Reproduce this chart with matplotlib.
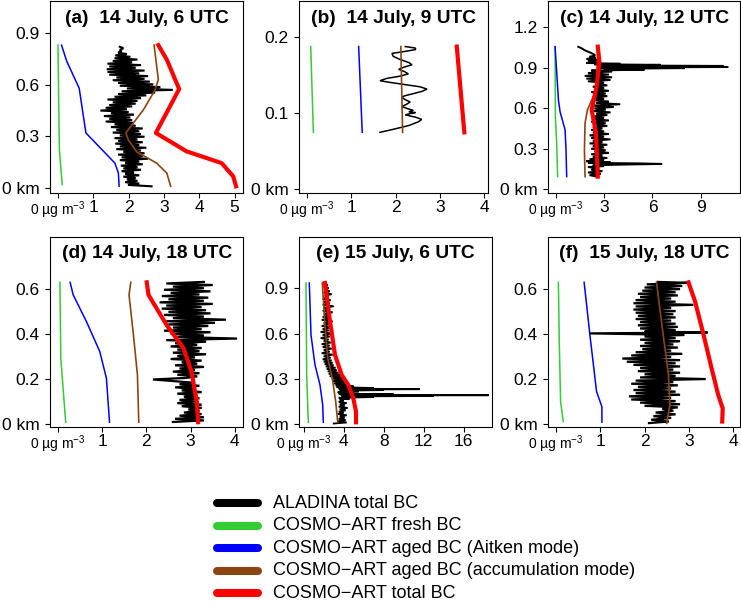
import numpy as np
import matplotlib
matplotlib.use('Agg')
import matplotlib.pyplot as plt
from matplotlib.lines import Line2D

plt.rcParams['font.family'] = ['Liberation Sans', 'DejaVu Sans']
plt.rcParams['mathtext.fontset'] = 'custom'
plt.rcParams['mathtext.rm'] = 'Liberation Sans'
plt.rcParams['mathtext.it'] = 'Liberation Sans:italic'
plt.rcParams['mathtext.default'] = 'regular'

C_BLACK, C_FRESH, C_AIT, C_ACC, C_TOT = 'black', '#33CC33', '#0000FF', '#8B4513', '#FF0000'
LEGEND_LABELS = ['ALADINA total BC', 'COSMO\u2212ART fresh BC',
                 'COSMO\u2212ART aged BC (Aitken mode)',
                 'COSMO\u2212ART aged BC (accumulation mode)',
                 'COSMO\u2212ART total BC']
TITLES = ['(a)  14 July, 6 UTC', '(b)  14 July, 9 UTC', '(c) 14 July, 12 UTC',
          '(d) 14 July, 18 UTC', '(e) 15 July, 6 UTC', '(f)  15 July, 18 UTC']

# ---------------- panel (a) ----------------
A_FRESH_X = [0.0, 0.02, 0.04, 0.12]
A_FRESH_Z = [0.83, 0.50, 0.22, 0.02]
A_AIT_X = [0.10, 0.25, 0.60, 0.79, 1.61, 1.71, 1.73]
A_AIT_Z = [0.83, 0.735, 0.58, 0.32, 0.145, 0.087, 0.01]
A_ACC_X = [2.72, 2.84, 2.75, 2.42, 1.92, 1.99, 2.23, 2.79, 3.08, 3.19]
A_ACC_Z = [0.83, 0.63, 0.57, 0.455, 0.32, 0.28, 0.21, 0.145, 0.087, 0.01]
A_TOT_X = [2.84, 3.08, 3.43, 3.12, 2.77, 3.64, 4.63, 4.96, 5.04]
A_TOT_Z = [0.83, 0.745, 0.575, 0.455, 0.32, 0.213, 0.145, 0.068, 0.01]
A_OBS_Z = [0.010, 0.018, 0.026, 0.034, 0.042, 0.050, 0.058, 0.066, 0.074, 0.082,
           0.090, 0.098, 0.106, 0.114, 0.122, 0.130, 0.138, 0.146, 0.154, 0.162,
           0.170, 0.178, 0.186, 0.194, 0.202, 0.210, 0.218, 0.226, 0.234, 0.242,
           0.250, 0.258, 0.266, 0.274, 0.282, 0.290, 0.298, 0.306, 0.314, 0.322,
           0.330, 0.338, 0.346, 0.354, 0.362, 0.370, 0.378, 0.386, 0.394, 0.402,
           0.410, 0.418, 0.426, 0.434, 0.442, 0.450, 0.458, 0.466, 0.474, 0.482,
           0.490, 0.498, 0.506, 0.514, 0.522, 0.530, 0.538, 0.546, 0.554, 0.562,
           0.570, 0.578, 0.586, 0.594, 0.602, 0.610, 0.618, 0.626, 0.634, 0.642,
           0.650, 0.658, 0.666, 0.674, 0.682, 0.690, 0.698, 0.706, 0.714, 0.722,
           0.730, 0.738, 0.746, 0.754, 0.762, 0.770, 0.778, 0.786, 0.794, 0.802,
           0.812, 0.820]
A_OBS_X = [2.65, 1.98, 2.30, 1.90, 2.25, 1.95, 2.20, 1.85, 2.30, 1.90,
           2.15, 1.80, 2.35, 1.85, 2.25, 1.78, 2.40, 1.90, 2.30, 1.75,
           2.55, 1.80, 2.40, 1.70, 2.45, 1.85, 2.35, 1.65, 2.50, 1.75,
           2.30, 1.62, 2.40, 1.70, 2.25, 1.60, 2.45, 1.75, 2.35, 1.55,
           2.30, 1.65, 2.40, 1.50, 2.20, 1.60, 2.15, 1.35, 2.10, 1.45,
           2.05, 1.30, 2.15, 1.50, 2.00, 1.20, 1.95, 1.35, 2.10, 1.45,
           2.20, 1.55, 2.25, 1.40, 2.35, 1.60, 2.50, 1.70, 2.75, 1.80,
           3.25, 1.95, 2.90, 1.75, 2.70, 1.70, 2.60, 1.55, 2.45, 1.65,
           2.55, 1.45, 2.30, 1.40, 2.45, 1.38, 2.20, 1.45, 2.35, 1.40,
           2.10, 1.55, 2.25, 1.60, 2.05, 1.62, 1.95, 1.70, 1.80, 1.75,
           1.85, 1.75]

# ---------------- panel (b) ----------------
B_FRESH_X = [0.09, 0.15]
B_FRESH_Z = [0.188, 0.075]
B_AIT_X = [1.17, 1.25]
B_AIT_Z = [0.188, 0.075]
B_ACC_X = [2.12, 2.16]
B_ACC_Z = [0.188, 0.075]
B_TOT_X = [3.38, 3.55]
B_TOT_Z = [0.188, 0.075]
B_OBS_Z = [0.075, 0.079, 0.084, 0.089, 0.092, 0.095, 0.097, 0.098, 0.100, 0.101,
           0.102, 0.104, 0.106, 0.109, 0.112, 0.115, 0.118, 0.121, 0.123, 0.126,
           0.129, 0.132, 0.135, 0.138, 0.141, 0.143, 0.146, 0.149, 0.152, 0.155,
           0.158, 0.161, 0.164, 0.167, 0.171, 0.175, 0.179, 0.181, 0.184, 0.186,
           0.188]
B_OBS_X = [1.65, 1.95, 2.30, 2.52, 2.59, 2.45, 2.30, 2.22, 2.35, 2.45,
           2.30, 2.40, 2.28, 2.14, 2.25, 2.33, 2.22, 2.14, 2.20, 2.40,
           2.60, 2.71, 2.55, 2.20, 1.85, 1.65, 1.80, 2.10, 2.29, 2.20,
           2.07, 2.20, 2.37, 2.30, 2.10, 1.95, 1.92, 2.15, 2.45, 2.45,
           2.22]

# ---------------- panel (c) ----------------
C_FRESH_X = [-0.04, -0.02, 0.06, 0.12]
C_FRESH_Z = [1.057, 0.538, 0.34, 0.094]
C_AIT_X = [-0.04, 0.17, 0.27, 0.58, 0.64, 0.68]
C_AIT_Z = [1.057, 0.66, 0.575, 0.44, 0.29, 0.094]
C_ACC_X = [2.61, 2.54, 2.23, 1.97, 1.82, 1.78, 1.82]
C_ACC_Z = [1.057, 0.75, 0.66, 0.59, 0.49, 0.29, 0.094]
C_TOT_X = [2.61, 2.71, 2.54, 2.23, 2.50, 2.61]
C_TOT_Z = [1.057, 0.946, 0.76, 0.59, 0.415, 0.094]
C_OBS_Z = [0.095, 0.105, 0.115, 0.125, 0.135, 0.145, 0.155, 0.165, 0.172, 0.178,
           0.184, 0.188, 0.192, 0.196, 0.200, 0.208, 0.216, 0.224, 0.232, 0.240,
           0.250, 0.260, 0.270, 0.280, 0.290, 0.300, 0.310, 0.320, 0.330, 0.340,
           0.350, 0.360, 0.370, 0.380, 0.390, 0.400, 0.410, 0.420, 0.430, 0.440,
           0.450, 0.460, 0.470, 0.480, 0.490, 0.500, 0.510, 0.520, 0.530, 0.540,
           0.550, 0.560, 0.570, 0.580, 0.590, 0.600, 0.610, 0.620, 0.630, 0.640,
           0.650, 0.660, 0.670, 0.680, 0.690, 0.700, 0.710, 0.720, 0.730, 0.740,
           0.750, 0.760, 0.770, 0.780, 0.790, 0.800, 0.810, 0.820, 0.830, 0.840,
           0.850, 0.860, 0.868, 0.874, 0.880, 0.886, 0.892, 0.898, 0.902, 0.906,
           0.910, 0.914, 0.918, 0.922, 0.926, 0.930, 0.936, 0.942, 0.950, 0.958,
           0.966, 0.974, 0.982, 0.990, 0.995, 1.010, 1.020, 1.030, 1.045, 1.056]
C_OBS_X = [2.5, 2.1, 2.8, 2.0, 2.9, 2.2, 2.7, 2.0, 3.0, 2.3,
           4.5, 6.6, 5.2, 2.0, 3.4, 1.9, 3.0, 2.1, 3.2, 2.3,
           2.9, 2.2, 3.3, 2.4, 3.1, 2.2, 3.0, 2.3, 3.2, 2.1,
           2.9, 2.3, 3.4, 2.2, 3.0, 2.1, 3.3, 2.3, 3.0, 2.2,
           2.9, 2.3, 3.2, 2.4, 3.1, 2.2, 3.3, 2.4, 3.0, 2.3,
           3.2, 2.5, 3.4, 2.3, 3.1, 2.4, 3.6, 2.2, 4.0, 2.5,
           3.3, 2.4, 3.0, 2.3, 3.2, 2.5, 3.1, 2.2, 3.3, 2.4,
           3.0, 2.3, 3.2, 2.5, 3.0, 2.0, 3.4, 1.9, 3.5, 1.8,
           3.3, 2.0, 2.8, 3.5, 2.2, 5.5, 3.0, 8.0, 2.6, 10.7,
           3.0, 10.4, 2.7, 6.5, 2.4, 4.0, 1.9, 2.8, 2.0, 2.6,
           1.9, 2.5, 2.1, 2.4, 2.44, 2.2, 2.0, 1.8, 1.6, 1.4]

# ---------------- panel (d) ----------------
D_FRESH_X = [0.05, 0.07, 0.18]
D_FRESH_Z = [0.631, 0.293, 0.009]
D_AIT_X = [0.28, 0.35, 0.65, 0.95, 1.10, 1.17]
D_AIT_Z = [0.631, 0.575, 0.456, 0.323, 0.204, 0.009]
D_ACC_X = [1.65, 1.61, 1.71, 1.80, 1.83]
D_ACC_Z = [0.631, 0.575, 0.397, 0.219, 0.009]
D_TOT_X = [2.01, 2.05, 2.46, 2.84, 3.02, 3.14, 3.17]
D_TOT_Z = [0.631, 0.575, 0.441, 0.338, 0.234, 0.10, 0.009]
D_OBS_Z = [0.010, 0.017, 0.024, 0.031, 0.038, 0.045, 0.052, 0.059, 0.066, 0.073,
           0.080, 0.087, 0.094, 0.101, 0.108, 0.115, 0.122, 0.129, 0.136, 0.143,
           0.150, 0.157, 0.164, 0.171, 0.178, 0.185, 0.192, 0.199, 0.206, 0.213,
           0.220, 0.227, 0.234, 0.241, 0.248, 0.255, 0.262, 0.269, 0.276, 0.283,
           0.290, 0.297, 0.304, 0.311, 0.318, 0.325, 0.332, 0.339, 0.346, 0.353,
           0.360, 0.367, 0.374, 0.381, 0.388, 0.395, 0.402, 0.409, 0.416, 0.423,
           0.430, 0.437, 0.444, 0.451, 0.458, 0.465, 0.472, 0.479, 0.486, 0.493,
           0.500, 0.507, 0.514, 0.521, 0.528, 0.535, 0.542, 0.549, 0.556, 0.563,
           0.570, 0.577, 0.584, 0.591, 0.598, 0.605, 0.612, 0.619, 0.626, 0.633]
D_OBS_X = [2.60, 3.30, 2.65, 3.30, 2.75, 3.25, 2.85, 3.20, 2.95, 3.25,
           2.80, 3.25, 2.70, 3.10, 2.75, 3.20, 2.85, 3.15, 2.70, 3.25,
           2.80, 3.10, 2.65, 3.20, 2.75, 3.05, 2.60, 2.15, 2.90, 3.15,
           2.70, 3.20, 2.60, 3.10, 2.75, 3.30, 2.65, 3.15, 2.80, 3.25,
           2.55, 3.10, 2.70, 3.35, 2.60, 3.20, 2.70, 3.25, 2.55, 3.15,
           2.65, 3.35, 2.45, 4.05, 2.70, 3.30, 2.55, 3.45, 2.40, 3.25,
           2.60, 3.40, 2.50, 3.55, 2.45, 3.80, 2.60, 3.30, 2.40, 3.45,
           2.50, 3.35, 2.35, 3.25, 2.45, 3.50, 2.30, 3.30, 2.50, 3.40,
           2.35, 3.20, 2.55, 3.45, 2.40, 3.30, 2.60, 3.50, 2.45, 3.30]

# ---------------- panel (e) ----------------
E_FRESH_X = [0.23, 0.30, 0.46]
E_FRESH_Z = [0.934, 0.326, 0.013]
E_AIT_X = [0.56, 0.73, 1.13, 1.63, 1.90, 1.96]
E_AIT_Z = [0.934, 0.59, 0.393, 0.26, 0.128, 0.013]
E_ACC_X = [1.86, 2.13, 2.40, 2.86, 3.20, 3.40]
E_ACC_Z = [0.934, 0.657, 0.437, 0.305, 0.15, 0.013]
E_TOT_X = [2.13, 2.63, 3.13, 3.80, 4.46, 4.96, 5.23, 5.23]
E_TOT_Z = [0.934, 0.68, 0.459, 0.326, 0.26, 0.172, 0.084, 0.013]
E_OBS_Z = [0.005, 0.012, 0.020, 0.028, 0.036, 0.044, 0.052, 0.060, 0.068, 0.076,
           0.084, 0.092, 0.100, 0.108, 0.116, 0.124, 0.132, 0.140, 0.148, 0.156,
           0.164, 0.170, 0.175, 0.180, 0.184, 0.187, 0.190, 0.192, 0.195, 0.198,
           0.202, 0.207, 0.212, 0.217, 0.222, 0.226, 0.229, 0.232, 0.236, 0.240,
           0.245, 0.250, 0.256, 0.262, 0.270, 0.278, 0.286, 0.294, 0.302, 0.310,
           0.318, 0.326, 0.334, 0.342, 0.350, 0.358, 0.366, 0.374, 0.382, 0.390,
           0.398, 0.406, 0.414, 0.422, 0.430, 0.440, 0.450, 0.460, 0.470, 0.480,
           0.490, 0.500, 0.510, 0.520, 0.530, 0.540, 0.550, 0.560, 0.570, 0.580,
           0.590, 0.600, 0.610, 0.620, 0.630, 0.640, 0.650, 0.660, 0.670, 0.680,
           0.690, 0.700, 0.710, 0.720, 0.730, 0.740, 0.750, 0.760, 0.770, 0.780,
           0.790, 0.800, 0.810, 0.820, 0.830, 0.840, 0.850, 0.860, 0.870, 0.880,
           0.890, 0.900, 0.910, 0.920, 0.930]
E_OBS_X = [3.0, 4.3, 3.4, 4.2, 3.5, 4.1, 3.6, 4.3, 3.4, 4.0,
           3.5, 4.2, 3.6, 4.4, 3.5, 4.1, 3.6, 4.3, 3.5, 4.0,
           3.6, 4.6, 3.5, 7.0, 3.8, 13.0, 4.0, 18.5, 3.7, 9.0,
           3.5, 5.0, 3.4, 5.5, 3.6, 8.0, 3.7, 11.6, 3.5, 7.0,
           3.3, 5.0, 3.2, 4.6, 3.0, 4.4, 2.9, 4.2, 2.8, 4.0,
           2.6, 3.7, 2.5, 3.5, 2.4, 3.3, 2.3, 3.2, 2.2, 3.0,
           2.1, 2.9, 2.0, 2.8, 1.9, 2.7, 2.0, 2.9, 1.8, 2.6,
           2.0, 2.8, 1.9, 2.6, 1.8, 2.7, 2.0, 2.5, 1.7, 2.6,
           1.9, 2.8, 1.7, 2.5, 1.9, 2.7, 1.8, 2.5, 2.0, 2.9,
           1.8, 2.6, 1.9, 2.7, 2.0, 2.9, 1.9, 2.6, 2.0, 3.0,
           1.9, 2.6, 2.0, 2.7, 1.9, 2.5, 2.1, 2.8, 2.0, 2.6,
           2.1, 2.5, 2.0, 2.4, 2.1]

# ---------------- panel (f) ----------------
F_FRESH_X = [0.06, 0.08, 0.11, 0.17]
F_FRESH_Z = [0.631, 0.367, 0.10, 0.012]
F_AIT_X = [0.64, 0.77, 0.92, 1.04, 1.04]
F_AIT_Z = [0.631, 0.397, 0.145, 0.078, 0.009]
F_ACC_X = [2.27, 2.42, 2.54, 2.57, 2.50]
F_ACC_Z = [0.631, 0.397, 0.219, 0.086, 0.004]
F_TOT_X = [2.99, 3.14, 3.33, 3.51, 3.66, 3.76, 3.75]
F_TOT_Z = [0.631, 0.545, 0.397, 0.249, 0.13, 0.071, 0.012]
F_OBS_Z = [0.005, 0.012, 0.020, 0.028, 0.036, 0.044, 0.052, 0.060, 0.068, 0.075,
           0.082, 0.089, 0.096, 0.103, 0.110, 0.117, 0.124, 0.131, 0.138, 0.145,
           0.152, 0.159, 0.166, 0.173, 0.180, 0.187, 0.194, 0.201, 0.208, 0.215,
           0.222, 0.229, 0.236, 0.243, 0.250, 0.257, 0.264, 0.271, 0.278, 0.285,
           0.292, 0.299, 0.306, 0.313, 0.320, 0.327, 0.334, 0.341, 0.348, 0.355,
           0.362, 0.369, 0.376, 0.383, 0.390, 0.397, 0.404, 0.408, 0.412, 0.419,
           0.426, 0.433, 0.440, 0.447, 0.454, 0.461, 0.468, 0.475, 0.482, 0.489,
           0.496, 0.503, 0.510, 0.517, 0.524, 0.531, 0.538, 0.545, 0.552, 0.559,
           0.566, 0.573, 0.580, 0.587, 0.594, 0.601, 0.608, 0.615, 0.622, 0.629,
           0.633]
F_OBS_X = [2.10, 2.55, 2.15, 2.60, 2.20, 2.70, 2.25, 2.65, 2.40, 2.75,
           2.00, 2.80, 1.90, 2.70, 1.70, 2.60, 1.65, 2.80, 1.80, 2.70,
           1.75, 2.60, 1.85, 2.75, 1.70, 2.65, 1.80, 3.38, 1.90, 2.70,
           2.00, 2.80, 1.85, 2.65, 1.90, 2.80, 1.75, 2.70, 1.60, 2.80,
           1.50, 2.60, 1.70, 2.85, 1.80, 2.60, 1.95, 2.75, 1.90, 2.65,
           2.00, 2.80, 1.90, 2.70, 2.00, 2.90, 0.76, 3.42, 2.00, 2.70,
           1.90, 2.75, 1.85, 2.70, 1.90, 2.60, 1.80, 2.70, 1.85, 2.65,
           1.80, 2.70, 1.75, 2.60, 1.80, 3.10, 1.75, 2.70, 1.80, 2.60,
           1.90, 2.75, 1.85, 2.70, 1.95, 2.80, 2.00, 2.85, 2.05, 2.95,
           2.30]

PANELS = [
    dict(obs=(A_OBS_X, A_OBS_Z), fresh=(A_FRESH_X, A_FRESH_Z), ait=(A_AIT_X, A_AIT_Z),
         acc=(A_ACC_X, A_ACC_Z), tot=(A_TOT_X, A_TOT_Z), olw=1.5,
         xt=[0, 1, 2, 3, 4, 5], yt=[0, 0.3, 0.6, 0.9], ylab=['0 km', '0.3', '0.6', '0.9'],
         xlim=(-0.226, 5.245), ylim=(-0.027, 1.086), pos=(50, 1, 243.3, 192.7)),
    dict(obs=(B_OBS_X, B_OBS_Z), fresh=(B_FRESH_X, B_FRESH_Z), ait=(B_AIT_X, B_AIT_Z),
         acc=(B_ACC_X, B_ACC_Z), tot=(B_TOT_X, B_TOT_Z), olw=1.1,
         xt=[0, 1, 2, 3, 4], yt=[0, 0.1, 0.2], ylab=['0 km', '0.1', '0.2'],
         xlim=(-0.167, 4.09), ylim=(-0.0045, 0.248), pos=(299.3, 1, 488.3, 192.7)),
    dict(obs=(C_OBS_X, C_OBS_Z), fresh=(C_FRESH_X, C_FRESH_Z), ait=(C_AIT_X, C_AIT_Z),
         acc=(C_ACC_X, C_ACC_Z), tot=(C_TOT_X, C_TOT_Z), olw=1.4,
         xt=[0, 3, 6, 9], yt=[0, 0.3, 0.6, 0.9, 1.2], ylab=['0 km', '0.3', '0.6', '0.9', '1.2'],
         xlim=(-0.46, 11.43), ylim=(-0.025, 1.395), pos=(548.3, 1, 740, 192.7)),
    dict(obs=(D_OBS_X, D_OBS_Z), fresh=(D_FRESH_X, D_FRESH_Z), ait=(D_AIT_X, D_AIT_Z),
         acc=(D_ACC_X, D_ACC_Z), tot=(D_TOT_X, D_TOT_Z), olw=1.6,
         xt=[0, 1, 2, 3, 4], yt=[0, 0.2, 0.4, 0.6], ylab=['0 km', '0.2', '0.4', '0.6'],
         xlim=(-0.174, 4.19), ylim=(-0.011, 0.834), pos=(50, 236.7, 243.3, 426.7)),
    dict(obs=(E_OBS_X, E_OBS_Z), fresh=(E_FRESH_X, E_FRESH_Z), ait=(E_AIT_X, E_AIT_Z),
         acc=(E_ACC_X, E_ACC_Z), tot=(E_TOT_X, E_TOT_Z), olw=1.3,
         xt=[0, 4, 8, 12, 16], yt=[0, 0.3, 0.6, 0.9], ylab=['0 km', '0.3', '0.6', '0.9'],
         xlim=(-0.44, 18.86), ylim=(-0.016, 1.24), pos=(299.3, 236.7, 492.3, 426.7)),
    dict(obs=(F_OBS_X, F_OBS_Z), fresh=(F_FRESH_X, F_FRESH_Z), ait=(F_AIT_X, F_AIT_Z),
         acc=(F_ACC_X, F_ACC_Z), tot=(F_TOT_X, F_TOT_Z), olw=1.6,
         xt=[0, 1, 2, 3, 4], yt=[0, 0.2, 0.4, 0.6], ylab=['0 km', '0.2', '0.4', '0.6'],
         xlim=(-0.167, 4.15), ylim=(-0.011, 0.834), pos=(548.3, 236.7, 740, 426.7)),
]

W, H = 741, 601
fig = plt.figure(figsize=(W / 100, H / 100), dpi=100)

for p, title in zip(PANELS, TITLES):
    l, t, r, b = p['pos']
    ax = fig.add_axes([l / W, 1 - b / H, (r - l) / W, (b - t) / H])
    ax.plot(*p['fresh'], color=C_FRESH, lw=1.1, zorder=2)
    ax.plot(*p['ait'], color=C_AIT, lw=1.1, zorder=2)
    ax.plot(*p['obs'], color=C_BLACK, lw=p['olw'], zorder=3, solid_joinstyle='bevel')
    ax.plot(*p['acc'], color=C_ACC, lw=1.2, zorder=4)
    ax.plot(*p['tot'], color=C_TOT, lw=3.0, zorder=5)
    ax.set_xlim(*p['xlim'])
    ax.set_ylim(*p['ylim'])
    ax.set_xticks(p['xt'])
    ax.set_xticklabels(['0 \u00b5g m$^{-3}$'] + [str(v) for v in p['xt'][1:]])
    ax.set_yticks(p['yt'])
    ax.set_yticklabels(p['ylab'])
    ax.tick_params(axis='x', labelsize=12.5, length=3.5, width=0.8, pad=1.5)
    ax.tick_params(axis='y', labelsize=12.5, length=3.6, width=0.8, pad=4)
    ax.xaxis.get_ticklabels()[0].set_fontsize(10)
    for s in ax.spines.values():
        s.set_linewidth(0.8)
    ax.text(0.5, 0.91, title, transform=ax.transAxes, ha='center', va='center',
            fontsize=13.8, fontweight='bold')

# legend
leg_colors = [C_BLACK, C_FRESH, C_AIT, C_ACC, C_TOT]
for i, (lab, col) in enumerate(zip(LEGEND_LABELS, leg_colors)):
    yp = 1 - (503.0 + i * 22.6) / H
    fig.add_artist(Line2D([217 / W, 258 / W], [yp, yp], transform=fig.transFigure,
                          color=col, lw=5.8, solid_capstyle='round'))
    fig.text(273 / W, yp, lab, ha='left', va='center', fontsize=13)

fig.savefig('out.png', dpi=100)
